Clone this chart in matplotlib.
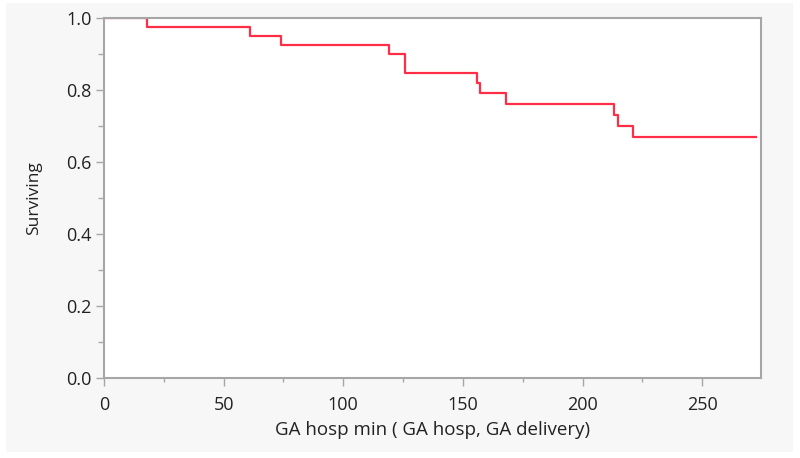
import matplotlib
matplotlib.use("Agg")
import matplotlib.pyplot as plt
from matplotlib.patches import Rectangle
from matplotlib.ticker import MultipleLocator

# Kaplan-Meier estimate
tempos = [0, 18, 61, 74, 119, 126, 156, 157, 168, 213, 215, 221, 272.5]
sobrevivencia = [1.0, 0.975, 0.95, 0.925, 0.90, 0.848, 0.818, 0.79, 0.76, 0.73, 0.70, 0.67, 0.67]

rotulo_x = "GA hosp min ( GA hosp, GA delivery)"
rotulo_y = "Surviving"

plt.rcParams['font.family'] = ['Open Sans', 'DejaVu Sans']

fig = plt.figure(figsize=(8, 4.58), dpi=100)
fig.patch.set_facecolor('white')
# fundo cinza claro do painel
fig.patches.append(Rectangle((6 / 800, 6 / 458), 787 / 800, 449 / 458, transform=fig.transFigure,
                             facecolor='#f7f7f7', edgecolor='none', zorder=-10))
ax = fig.add_axes([0.13, 0.175, 0.821, 0.786])
ax.set_facecolor('white')

ax.step(tempos, sobrevivencia, where='post', color='#ff2d45', linewidth=1.6, zorder=2)

ax.set_xlim(0, 274.5)
ax.set_ylim(0, 1.0)
ax.xaxis.set_major_locator(MultipleLocator(50))
ax.xaxis.set_minor_locator(MultipleLocator(25))
ax.yaxis.set_major_locator(MultipleLocator(0.2))
ax.yaxis.set_minor_locator(MultipleLocator(0.1))
ax.yaxis.set_major_formatter(plt.FuncFormatter(lambda v, p: f"{v:.1f}"))

for s in ax.spines.values():
    s.set_color('#a6a6a6')
    s.set_linewidth(1.5)
    s.set_zorder(5)

ax.tick_params(which='major', length=6, width=1, color='#a6a6a6', labelsize=13, labelcolor='#222222')
ax.tick_params(axis='x', which='major', pad=7)
ax.tick_params(axis='y', which='major', pad=3)
ax.tick_params(axis='x', which='minor', length=3, width=1, color='#a6a6a6')
ax.tick_params(axis='y', which='minor', length=4, width=1, color='#a6a6a6')

ax.set_xlabel(rotulo_x, fontsize=13.5, color='#222222', labelpad=5)
ax.set_ylabel(rotulo_y, fontsize=12.5, color='#222222', labelpad=17)

fig.savefig('out.png', dpi=100, facecolor=fig.get_facecolor())
